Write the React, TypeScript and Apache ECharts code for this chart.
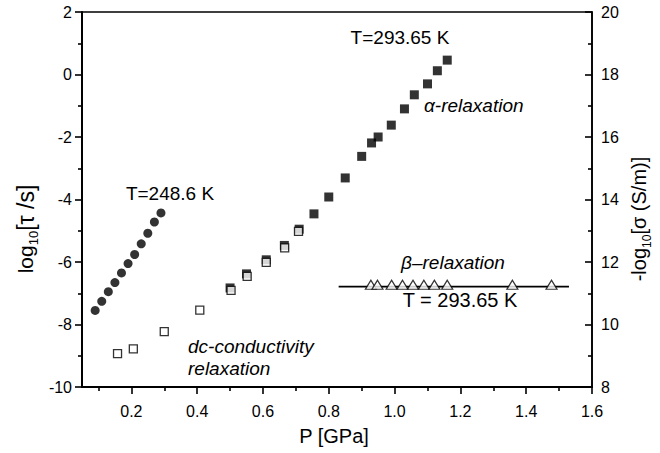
import React, { useEffect, useRef } from "react";
import * as echarts from "echarts";

// T = 248.6 K, alpha relaxation (filled circles), left axis log10[tau/s]
const P_248 = [0.09, 0.11, 0.13, 0.15, 0.17, 0.19, 0.21, 0.23, 0.25, 0.27, 0.29];
const tau_248 = [-7.55, -7.26, -6.95, -6.66, -6.35, -6.05, -5.76, -5.42, -5.08, -4.72, -4.43];

// T = 293.65 K, alpha relaxation (filled squares), left axis
const P_alpha = [0.5, 0.55, 0.61, 0.665, 0.71, 0.755, 0.8, 0.85, 0.9, 0.93, 0.95, 0.99, 1.03, 1.06, 1.1, 1.13, 1.16];
const tau_alpha = [-6.83, -6.38, -5.93, -5.47, -4.95, -4.46, -3.92, -3.31, -2.62, -2.19, -2.0, -1.62, -1.1, -0.65, -0.3, 0.12, 0.46];

// dc-conductivity relaxation (open squares), right axis -log10[sigma (S/m)]
const P_dc = [0.158, 0.206, 0.3, 0.408, 0.503, 0.552, 0.61, 0.666, 0.708];
const sigma_dc = [9.07, 9.22, 9.77, 10.46, 11.09, 11.54, 11.99, 12.45, 12.98];

// beta relaxation (open triangles), left axis
const P_beta = [0.928, 0.948, 0.991, 1.024, 1.056, 1.089, 1.121, 1.16, 1.358, 1.477];
const tau_beta = [-6.73, -6.73, -6.73, -6.73, -6.73, -6.73, -6.73, -6.73, -6.73, -6.73];

// horizontal fit line through beta points
const P_betaFit = [0.83, 1.53];
const tau_betaFit = [-6.79, -6.79];

const xMajorTicks = [0.2, 0.4, 0.6, 0.8, 1.0, 1.2, 1.4, 1.6];
const xMinorTicks = [0.1, 0.3, 0.5, 0.7, 0.9, 1.1, 1.3, 1.5];

const FONT = "'Liberation Sans', Arial, Helvetica, sans-serif";

export default function App() {
  const ref = useRef<HTMLDivElement>(null);

  useEffect(() => {
    if (!ref.current) return;
    const chart = echarts.init(ref.current, null, { renderer: "svg" });
    const black = "#000";
    const zip = (a: number[], b: number[]) => a.map((v, i) => [v, b[i]]);

    const subRich = (main: number, sub: number) => ({
      a: { fontSize: main, fontFamily: FONT, fill: black, verticalAlign: "top", lineHeight: main + 4 },
      s: { fontSize: sub, fontFamily: FONT, fill: black, verticalAlign: "bottom", lineHeight: sub - 2 },
    });

    const option: any = {
      animation: false,
      backgroundColor: "#fff",
      grid: {
        left: 82,
        right: 68,
        top: 12,
        bottom: 66,
        show: true,
        borderColor: black,
        borderWidth: 1.6,
        backgroundColor: "transparent",
      },
      xAxis: [
        {
          type: "value",
          min: 0.05,
          max: 1.6,
          position: "bottom",
          axisLine: { show: true, onZero: false, lineStyle: { color: black, width: 2 } },
          axisTick: { show: true, length: 7, customValues: xMajorTicks, lineStyle: { color: black, width: 1.6 } },
          axisLabel: {
            customValues: xMajorTicks,
            formatter: (v: number) => v.toFixed(1),
            color: black,
            fontSize: 16,
            fontFamily: FONT,
            margin: 16,
          },
          splitLine: { show: false },
        },
        {
          type: "value",
          min: 0.05,
          max: 1.6,
          position: "bottom",
          axisLine: { show: false, onZero: false },
          axisTick: { show: true, length: 4, customValues: xMinorTicks, lineStyle: { color: black, width: 1.6 } },
          axisLabel: { show: false },
          splitLine: { show: false },
        },
      ],
      yAxis: [
        {
          type: "value",
          min: -10,
          max: 2,
          interval: 2,
          position: "left",
          axisLine: { show: true, onZero: false, lineStyle: { color: black, width: 2 } },
          axisTick: { show: true, length: 7, lineStyle: { color: black, width: 1.6 } },
          minorTick: { show: true, splitNumber: 2, length: 4, lineStyle: { color: black, width: 1.6 } },
          axisLabel: { color: black, fontSize: 16, fontFamily: FONT, margin: 10 },
          splitLine: { show: false },
          minorSplitLine: { show: false },
        },
        {
          type: "value",
          min: 8,
          max: 20,
          interval: 2,
          position: "right",
          axisLine: { show: true, onZero: false, lineStyle: { color: black, width: 1.6 } },
          axisTick: { show: true, inside: true, length: 7, lineStyle: { color: black, width: 1.6 } },
          minorTick: { show: true, splitNumber: 2, length: 4, lineStyle: { color: black, width: 1.6 } },
          axisLabel: { color: black, fontSize: 16, fontFamily: FONT, margin: 9 },
          splitLine: { show: false },
          minorSplitLine: { show: false },
        },
      ],
      series: [
        {
          type: "scatter",
          name: "T=248.6 K",
          xAxisIndex: 0,
          yAxisIndex: 0,
          symbol: "circle",
          symbolSize: 9,
          itemStyle: { color: black },
          data: zip(P_248, tau_248),
        },
        {
          type: "scatter",
          name: "alpha",
          xAxisIndex: 0,
          yAxisIndex: 0,
          symbol: "rect",
          symbolSize: 9,
          itemStyle: { color: black },
          data: zip(P_alpha, tau_alpha),
        },
        {
          type: "scatter",
          name: "dc",
          xAxisIndex: 0,
          yAxisIndex: 1,
          symbol: "rect",
          symbolSize: 8,
          z: 3,
          itemStyle: { color: "#fff", borderColor: black, borderWidth: 1.3 },
          data: zip(P_dc, sigma_dc),
        },
        {
          type: "line",
          name: "betaFit",
          xAxisIndex: 0,
          yAxisIndex: 0,
          showSymbol: false,
          symbol: "none",
          lineStyle: { color: black, width: 1.7 },
          data: zip(P_betaFit, tau_betaFit),
        },
        {
          type: "scatter",
          name: "beta",
          xAxisIndex: 0,
          yAxisIndex: 0,
          symbol: "triangle",
          symbolSize: [11, 9],
          z: 4,
          itemStyle: { color: "#fff", borderColor: black, borderWidth: 1.2 },
          data: zip(P_beta, tau_beta),
        },
      ],
      graphic: [
        {
          type: "text",
          x: 170,
          y: 193,
          style: { text: "T=248.6 K", font: `19px ${FONT}`, fill: black, align: "center", verticalAlign: "middle" },
        },
        {
          type: "text",
          x: 400,
          y: 37,
          style: { text: "T=293.65 K", font: `19px ${FONT}`, fill: black, align: "center", verticalAlign: "middle" },
        },
        {
          type: "text",
          x: 424,
          y: 105,
          style: { text: "\u03b1-relaxation", font: `italic 19px ${FONT}`, fill: black, align: "left", verticalAlign: "middle" },
        },
        {
          type: "text",
          x: 453,
          y: 262,
          style: { text: "\u03b2\u2013relaxation", font: `italic 19px ${FONT}`, fill: black, align: "center", verticalAlign: "middle" },
        },
        {
          type: "text",
          x: 460,
          y: 300,
          style: { text: "T = 293.65 K", font: `20px ${FONT}`, fill: black, align: "center", verticalAlign: "middle" },
        },
        {
          type: "text",
          x: 188,
          y: 346,
          style: { text: "dc-conductivity", font: `italic 19px ${FONT}`, fill: black, align: "left", verticalAlign: "middle" },
        },
        {
          type: "text",
          x: 188,
          y: 368,
          style: { text: "relaxation", font: `italic 19px ${FONT}`, fill: black, align: "left", verticalAlign: "middle" },
        },
        {
          type: "text",
          x: 334,
          y: 436,
          style: { text: "P [GPa]", font: `20px ${FONT}`, fill: black, align: "center", verticalAlign: "middle" },
        },
        {
          type: "text",
          x: 27,
          y: 229,
          rotation: Math.PI / 2,
          style: {
            text: "{a|log}{s|10}{b|[\u03c4 /s]}",
            fill: black,
            align: "center",
            verticalAlign: "middle",
            rich: {
              ...subRich(21, 13),
              b: { fontSize: 23, fontFamily: FONT, fill: black, verticalAlign: "top", lineHeight: 25 },
            },
          },
        },
        {
          type: "text",
          x: 641,
          y: 219,
          rotation: Math.PI / 2,
          style: {
            text: "{a|-log}{s|10}{a|[\u03c3 (S/m)]}",
            fill: black,
            align: "center",
            verticalAlign: "middle",
            rich: subRich(20, 12),
          },
        },
      ],
    };

    chart.setOption(option);
    return () => chart.dispose();
  }, []);

  return (
    <div
      ref={ref}
      style={{ position: "fixed", left: 0, top: 0, width: 660, height: 453, background: "#fff" }}
    />
  );
}
